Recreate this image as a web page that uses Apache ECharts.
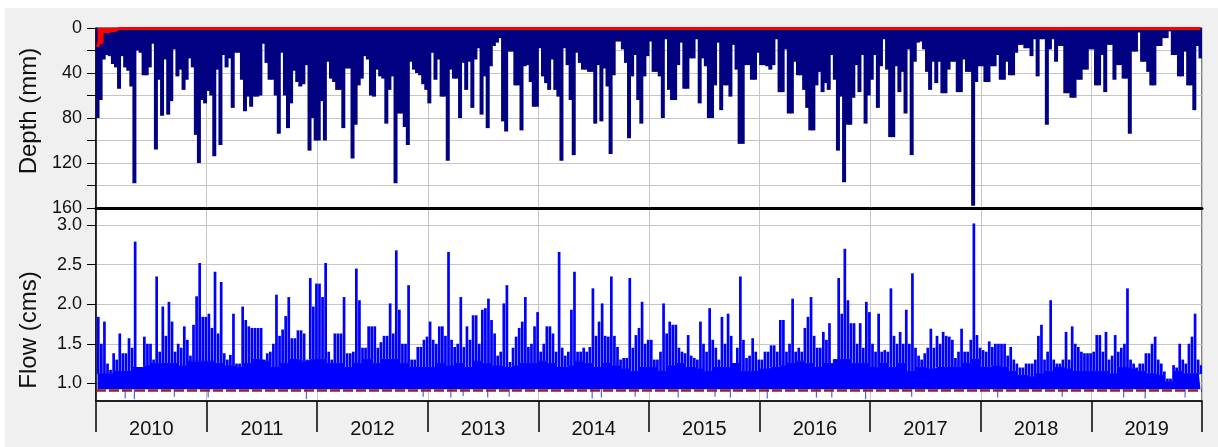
<!DOCTYPE html>
<html>
<head>
<meta charset="utf-8">
<title>Depth and flow 2010-2019</title>
<script src="https://cdn.jsdelivr.net/npm/echarts@6.0.0/dist/echarts.min.js"></script>
<style>
    html, body { margin: 0; padding: 0; background: #fff; }
    #hydro { width: 1218px; height: 447px; }
</style>
</head>
<body>
<div id="hydro"></div>
<script>
// years on the x axis, each year read as 36 ten-day steps
const years = ['2010', '2011', '2012', '2013', '2014', '2015', '2016', '2017', '2018', '2019'];
const flowTicks = [1.0, 1.5, 2.0, 2.5, 3.0];

// rain depth (mm), largest value in each ten-day step
const depth2010 = [80, 64, 28, 24, 25, 32, 35, 54, 25, 35, 38, 52, 138, 20, 22, 42, 42, 35, 14, 108, 46, 78, 28, 77, 65, 19, 43, 37, 55, 46, 27, 35, 95, 120, 64, 67];
const depth2011 = [56, 60, 114, 37, 104, 24, 35, 27, 71, 22, 22, 46, 74, 61, 70, 61, 61, 60, 14, 31, 46, 46, 60, 94, 22, 60, 89, 67, 38, 48, 52, 50, 33, 109, 80, 100];
const depth2012 = [100, 65, 100, 30, 45, 48, 55, 55, 89, 36, 36, 116, 86, 51, 45, 25, 28, 60, 61, 37, 43, 45, 85, 55, 43, 138, 76, 76, 88, 104, 30, 37, 40, 42, 50, 55];
const depth2013 = [67, 22, 46, 28, 61, 61, 118, 37, 45, 45, 80, 31, 55, 30, 71, 28, 18, 77, 43, 89, 34, 16, 13, 9, 83, 92, 21, 21, 51, 51, 91, 34, 33, 48, 70, 70];
const depth2014 = [18, 43, 49, 55, 28, 55, 61, 118, 18, 33, 64, 113, 22, 31, 37, 37, 39, 39, 85, 33, 83, 36, 52, 112, 42, 12, 12, 19, 31, 98, 43, 24, 64, 85, 43, 25];
const depth2015 = [12, 39, 39, 43, 80, 10, 55, 64, 64, 33, 13, 54, 54, 27, 27, 10, 67, 27, 34, 80, 80, 51, 13, 73, 51, 51, 61, 15, 37, 103, 103, 33, 33, 46, 46, 22];
const depth2016 = [33, 33, 34, 37, 33, 10, 57, 57, 19, 76, 76, 30, 42, 42, 55, 71, 91, 91, 51, 39, 57, 49, 55, 24, 46, 109, 61, 137, 86, 86, 62, 33, 57, 24, 85, 60];
const depth2017 = [46, 24, 71, 34, 10, 37, 97, 97, 34, 57, 39, 76, 19, 113, 30, 13, 12, 19, 39, 55, 30, 49, 30, 58, 58, 37, 30, 30, 57, 57, 28, 39, 39, 158, 48, 34];
const depth2018 = [34, 48, 48, 34, 34, 24, 46, 46, 30, 42, 42, 22, 15, 15, 18, 18, 25, 10, 43, 10, 10, 86, 19, 10, 30, 16, 16, 58, 58, 62, 62, 46, 46, 37, 37, 19];
const depth2019 = [19, 51, 51, 24, 57, 15, 15, 46, 33, 33, 45, 45, 94, 21, 21, 4, 30, 30, 39, 51, 51, 16, 16, 9, 9, 3, 24, 24, 43, 43, 21, 51, 51, 73, 16, 27];

// red series along the top (mm): [step, depth]
const redDepth = [[0, 17], [1, 13], [2, 3], [6, 2], [7, 0.5], [359, 0.5]];

// flow (cms), peak in each ten-day step
const flow2010 = [1.84, 1.5, 1.78, 1.25, 1.17, 1.38, 1.3, 1.63, 1.38, 1.38, 1.57, 1.45, 2.79, 1.2, 1.17, 1.59, 1.5, 1.5, 1.3, 2.35, 1.4, 1.97, 1.6, 2.03, 1.78, 1.4, 1.5, 1.45, 1.72, 1.55, 1.35, 1.74, 2.1, 2.52, 1.84, 1.84];
const flow2011 = [1.88, 1.7, 2.41, 1.63, 2.28, 1.38, 1.3, 1.36, 1.88, 1.25, 1.25, 1.97, 1.8, 1.72, 1.7, 1.7, 1.7, 1.7, 1.3, 1.38, 1.4, 1.5, 2.12, 1.6, 1.68, 1.85, 2.09, 1.57, 1.57, 1.67, 1.67, 1.63, 1.3, 2.33, 1.97, 2.26];
const flow2012 = [2.26, 2.09, 2.52, 1.4, 1.3, 1.63, 1.63, 1.63, 2.09, 1.38, 1.38, 1.4, 2.45, 2.05, 1.45, 1.45, 1.72, 1.72, 1.72, 1.45, 1.52, 1.6, 1.6, 2.01, 1.63, 2.68, 1.93, 1.5, 1.5, 2.24, 1.3, 1.3, 1.46, 1.46, 1.55, 1.59];
const flow2013 = [1.78, 1.55, 1.5, 1.72, 1.72, 1.6, 2.66, 1.55, 1.46, 1.5, 2.09, 1.46, 1.72, 1.55, 1.86, 1.86, 1.5, 1.93, 1.95, 2.07, 1.8, 1.63, 1.35, 1.4, 2.01, 2.24, 1.27, 1.45, 1.59, 1.7, 1.78, 2.09, 1.46, 1.5, 1.72, 1.9];
const flow2014 = [1.4, 1.5, 1.72, 1.72, 1.63, 1.4, 2.66, 1.45, 1.35, 1.4, 1.93, 2.41, 1.4, 1.4, 1.45, 1.4, 1.46, 2.2, 1.6, 1.78, 2.01, 1.6, 1.59, 2.35, 1.6, 1.46, 1.3, 1.32, 1.32, 2.33, 1.45, 1.61, 1.7, 2.03, 1.5, 1.55];
const flow2015 = [1.55, 1.3, 1.3, 1.4, 2.01, 1.63, 1.78, 1.74, 1.74, 1.45, 1.4, 1.38, 1.61, 1.35, 1.32, 1.3, 1.78, 1.5, 1.4, 1.95, 1.55, 1.45, 1.3, 1.84, 1.5, 1.88, 1.6, 1.25, 1.45, 2.35, 1.55, 1.32, 1.35, 1.57, 1.4, 1.3];
const flow2016 = [1.3, 1.4, 1.4, 1.48, 1.48, 1.4, 1.8, 1.8, 1.4, 1.5, 2.07, 1.4, 1.45, 1.4, 1.7, 1.84, 2.09, 1.6, 1.45, 1.45, 1.65, 1.55, 1.76, 1.25, 1.3, 2.33, 1.88, 2.7, 2.05, 1.76, 1.76, 1.5, 1.76, 1.45, 2.03, 1.9];
const flow2017 = [1.5, 1.4, 1.88, 1.4, 1.42, 1.4, 2.2, 1.6, 1.5, 1.65, 1.5, 1.93, 1.5, 2.39, 1.45, 1.35, 1.3, 1.38, 1.45, 1.69, 1.45, 1.6, 1.5, 1.65, 1.6, 1.59, 1.55, 1.32, 1.4, 1.69, 1.4, 1.4, 1.55, 3.02, 1.61, 1.45];
const flow2018 = [1.42, 1.4, 1.53, 1.46, 1.5, 1.5, 1.5, 1.5, 1.35, 1.46, 1.3, 1.25, 1.2, 1.2, 1.25, 1.25, 1.25, 1.3, 1.6, 1.74, 1.3, 1.4, 2.05, 1.3, 1.25, 1.25, 1.3, 1.65, 1.3, 1.72, 1.5, 1.46, 1.4, 1.38, 1.38, 1.38];
const flow2019 = [1.4, 1.61, 1.61, 1.4, 1.65, 1.3, 1.35, 1.61, 1.4, 1.45, 1.5, 2.2, 1.3, 1.25, 1.2, 1.25, 1.25, 1.38, 1.38, 1.5, 1.59, 1.3, 1.25, 1.15, 1.06, 1.06, 1.23, 1.2, 1.5, 1.3, 1.25, 1.5, 1.59, 1.88, 1.3, 1.23];

// flow (cms), top of the solid blue band, one value per month
const base2010 = [1.12, 1.12, 1.15, 1.15, 1.2, 1.22, 1.25, 1.25, 1.25, 1.22, 1.28, 1.28];
const base2011 = [1.28, 1.25, 1.22, 1.2, 1.25, 1.3, 1.28, 1.2, 1.25, 1.3, 1.28, 1.3];
const base2012 = [1.3, 1.25, 1.25, 1.2, 1.25, 1.3, 1.25, 1.3, 1.3, 1.25, 1.2, 1.2];
const base2013 = [1.2, 1.25, 1.22, 1.25, 1.2, 1.28, 1.25, 1.22, 1.2, 1.22, 1.25, 1.25];
const base2014 = [1.28, 1.25, 1.2, 1.22, 1.28, 1.25, 1.2, 1.25, 1.22, 1.18, 1.15, 1.2];
const base2015 = [1.2, 1.15, 1.22, 1.25, 1.2, 1.18, 1.15, 1.2, 1.2, 1.25, 1.15, 1.15];
const base2016 = [1.18, 1.2, 1.22, 1.25, 1.28, 1.25, 1.2, 1.25, 1.3, 1.3, 1.25, 1.25];
const base2017 = [1.2, 1.25, 1.2, 1.25, 1.15, 1.2, 1.18, 1.2, 1.2, 1.2, 1.25, 1.3];
const base2018 = [1.2, 1.22, 1.2, 1.15, 1.1, 1.08, 1.12, 1.15, 1.2, 1.18, 1.15, 1.15];
const base2019 = [1.15, 1.15, 1.12, 1.2, 1.18, 1.15, 1.12, 1.1, 1.02, 1.15, 1.12, 1.12];

// short low-flow dips under the band (cms): [step, flow]
const flowDip = [[9, 0.81], [12, 0.8], [25, 0.83], [36, 0.82], [68, 0.8], [106, 0.83], [115, 0.82], [119, 0.84],
    [127, 0.82], [134, 0.83], [161, 0.81], [164, 0.82], [175, 0.83], [189, 0.82], [201, 0.83], [206, 0.82],
    [218, 0.81], [234, 0.82], [239, 0.82], [250, 0.8], [265, 0.83], [293, 0.82], [314, 0.83], [334, 0.82],
    [341, 0.81], [354, 0.82]];

const flowFloor = 0.925;  // lower edge of the blue band
const flowDashed = 0.913; // dashed red reference line

// ---- build the series tables ----
const dekads = [];
years.forEach(y => {
    for (let m = 1; m <= 12; m++) {
        ['05', '15', '25'].forEach(d => dekads.push(y + '-' + String(m).padStart(2, '0') + '-' + d));
    }
});
const depth = [].concat(depth2010, depth2011, depth2012, depth2013, depth2014, depth2015, depth2016, depth2017, depth2018, depth2019);
const flowPeak = [].concat(flow2010, flow2011, flow2012, flow2013, flow2014, flow2015, flow2016, flow2017, flow2018, flow2019);
const flowBase = [];
[base2010, base2011, base2012, base2013, base2014, base2015, base2016, base2017, base2018, base2019].forEach(arr => {
    arr.forEach(v => flowBase.push(v, v, v));
});

const font = 'Liberation Sans, Arial, sans-serif';
const gridLine = {show: true, interval: 0, lineStyle: {color: '#c6c6c6', width: 1}};

const myChart = echarts.init(document.getElementById('hydro'));
const option = {
    animation: false,
    backgroundColor: '#f0f0f0',
    graphic: [
        {type: 'rect', shape: {x: 0, y: 0, width: 1218, height: 8}, style: {fill: '#fff'}, silent: true},
        {type: 'rect', shape: {x: 0, y: 0, width: 5, height: 447}, style: {fill: '#fff'}, silent: true},
        {
            type: 'text', x: 29, y: 111, rotation: Math.PI / 2, silent: true,
            style: {text: 'Depth (mm)', fontSize: 24, fontFamily: font, fill: '#111', align: 'center', verticalAlign: 'middle'},
        },
        {
            type: 'text', x: 29, y: 330, rotation: Math.PI / 2, silent: true,
            style: {text: 'Flow (cms)', fontSize: 24, fontFamily: font, fill: '#111', align: 'center', verticalAlign: 'middle'},
        },
    ],
    grid: [
        {left: 96, right: 16, top: 28, height: 180, show: true, backgroundColor: '#fff', borderColor: '#000', borderWidth: 1},
        {left: 96, right: 16, top: 208, height: 193, show: true, backgroundColor: '#fff', borderColor: '#000', borderWidth: 1},
    ],
    xAxis: [
        {gridIndex: 0, type: 'category', data: dekads, show: false},
        {
            gridIndex: 0, type: 'category', data: years, boundaryGap: true, position: 'bottom',
            axisLine: {show: true, lineStyle: {color: '#000', width: 3}},
            axisTick: {show: false}, axisLabel: {show: false}, splitLine: gridLine,
        },
        {gridIndex: 1, type: 'category', data: dekads, show: false},
        {
            gridIndex: 1, type: 'category', data: years, boundaryGap: true, position: 'bottom',
            axisLine: {show: true, lineStyle: {color: '#000', width: 1.5}},
            axisTick: {show: true, interval: 0, length: 31, lineStyle: {color: '#000', width: 1.5}},
            axisLabel: {interval: 0, fontSize: 20, fontFamily: font, color: '#111', margin: 18},
            splitLine: gridLine,
        },
    ],
    yAxis: [
        {
            gridIndex: 0, type: 'value', inverse: true, min: 0, max: 160, interval: 20,
            axisLine: {show: true, lineStyle: {color: '#000', width: 1.5}},
            axisTick: {show: true, length: 9, lineStyle: {color: '#000'}},
            axisLabel: {
                fontSize: 18, fontFamily: font, color: '#111', margin: 14,
                formatter: v => (v % 40 === 0 ? String(v) : ''),
            },
            splitLine: {show: true, lineStyle: {color: '#c6c6c6', width: 1}},
        },
        {
            gridIndex: 1, type: 'value', min: 0.777, max: 3.215,
            axisLine: {show: true, lineStyle: {color: '#000', width: 1.5}},
            axisTick: {show: true, length: 9, customValues: flowTicks, lineStyle: {color: '#000'}},
            axisLabel: {
                customValues: flowTicks, fontSize: 18, fontFamily: font, color: '#111', margin: 14,
                formatter: v => v.toFixed(1),
            },
            splitLine: {show: true, lineStyle: {color: '#c6c6c6', width: 1}},
        },
    ],
    series: [
        {
            name: 'Depth', type: 'bar', xAxisIndex: 0, yAxisIndex: 0, data: depth,
            barWidth: 4, itemStyle: {color: '#000080'}, silent: true,
        },
        {
            name: 'Top', type: 'line', xAxisIndex: 0, yAxisIndex: 0, data: redDepth,
            step: 'middle', showSymbol: false, clip: false, silent: true,
            lineStyle: {color: '#ff0000', width: 3}, areaStyle: {color: '#ff0000', opacity: 1}, z: 4,
        },
        {
            name: 'floor', type: 'line', xAxisIndex: 2, yAxisIndex: 1, stack: 'band',
            data: dekads.map(() => flowFloor), step: 'middle', showSymbol: false, silent: true,
            lineStyle: {opacity: 0},
        },
        {
            name: 'Flow band', type: 'line', xAxisIndex: 2, yAxisIndex: 1, stack: 'band',
            data: flowBase.map(v => +(v - flowFloor).toFixed(3)), step: 'middle', showSymbol: false, silent: true,
            lineStyle: {color: '#0000ff', width: 1}, areaStyle: {color: '#0000ff', opacity: 1},
            markLine: {
                silent: true, symbol: 'none', label: {show: false},
                lineStyle: {color: '#962020', type: [10, 3], width: 2.5, opacity: 1},
                data: [{yAxis: flowDashed}],
            },
            z: 3,
        },
        {
            name: 'spacer', type: 'bar', xAxisIndex: 2, yAxisIndex: 1, stack: 'peak',
            data: flowBase, barWidth: 2.7, barGap: '-100%', itemStyle: {color: 'rgba(0,0,0,0)'}, silent: true,
        },
        {
            name: 'Flow', type: 'bar', xAxisIndex: 2, yAxisIndex: 1, stack: 'peak',
            data: flowPeak.map((v, i) => Math.max(0, +(v - flowBase[i]).toFixed(3))),
            barWidth: 2.7, barGap: '-100%', itemStyle: {color: '#0000ff'}, silent: true,
        },
        {
            name: 'dip base', type: 'bar', xAxisIndex: 2, yAxisIndex: 1, stack: 'dip',
            data: flowDip.map(d => [d[0], d[1]]), barWidth: 1.2, barGap: '-100%',
            itemStyle: {color: 'rgba(0,0,0,0)'}, silent: true,
        },
        {
            name: 'Dip', type: 'bar', xAxisIndex: 2, yAxisIndex: 1, stack: 'dip',
            data: flowDip.map(d => [d[0], +(flowFloor - d[1]).toFixed(3)]), barWidth: 1.2, barGap: '-100%',
            itemStyle: {color: '#5a5aff'}, silent: true,
        },
    ],
};
myChart.setOption(option);
</script>
</body>
</html>
